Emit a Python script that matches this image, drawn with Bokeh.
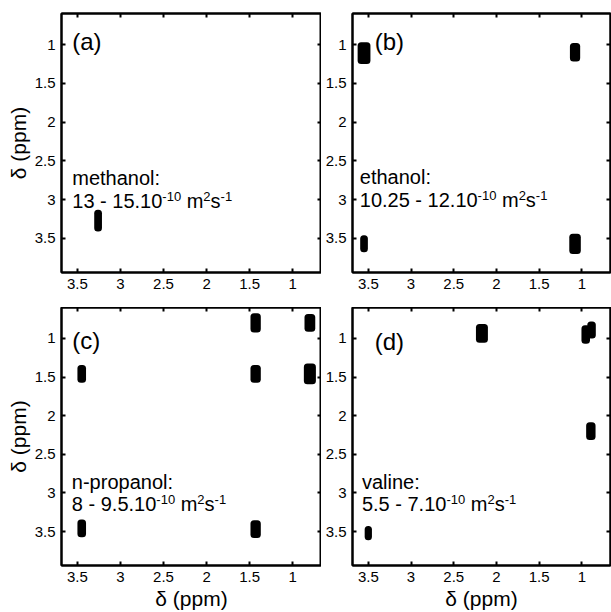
from bokeh.plotting import figure
from bokeh.layouts import gridplot
from bokeh.models import Range1d, LinearAxis, FixedTicker, Label
from bokeh.embed import file_html
from bokeh.resources import INLINE

FONT = "Liberation Sans"

# ---- axis ticks ----
x_ticks = [3.5, 3.0, 2.5, 2.0, 1.5, 1.0]
x_tick_labels = ["3.5", "3", "2.5", "2", "1.5", "1"]
y_ticks = [1.0, 1.5, 2.0, 2.5, 3.0, 3.5]
y_tick_labels = ["1", "1.5", "2", "2.5", "3", "3.5"]
axis_title = "δ (ppm)"

# ---- panel texts ----
panel_tags = ["(a)", "(b)", "(c)", "(d)"]
compounds = ["methanol:", "ethanol:", "n-propanol:", "valine:"]
diffusion_ranges = ["13 - 15.10", "10.25 - 12.10", "8 - 9.5.10", "5.5 - 7.10"]
unit_parts = [("-10", True), ("m", False), ("2", True), ("s", False), ("-1", True)]

# ---- cross peaks (F2 ppm, F1 ppm, extent in F2, extent in F1) ----
methanol_x = [3.26]
methanol_y = [3.27]
methanol_w = [0.09]
methanol_h = [0.28]

ethanol_x = [3.55, 1.08, 3.55, 1.08]
ethanol_y = [1.11, 1.10, 3.57, 3.57]
ethanol_w = [0.15, 0.12, 0.09, 0.135]
ethanol_h = [0.28, 0.24, 0.22, 0.26]

propanol_x = [3.45, 3.45, 1.43, 1.43, 1.43, 0.80, 0.80]
propanol_y = [1.46, 3.46, 0.80, 1.46, 3.47, 0.80, 1.46]
propanol_w = [0.10, 0.10, 0.12, 0.12, 0.12, 0.125, 0.14]
propanol_h = [0.23, 0.23, 0.25, 0.23, 0.23, 0.23, 0.27]

valine_x = [2.17, 0.955, 0.887, 0.895, 3.50]
valine_y = [0.935, 0.95, 0.89, 2.20, 3.52]
valine_w = [0.14, 0.10, 0.10, 0.11, 0.07]
valine_h = [0.245, 0.24, 0.22, 0.23, 0.185]

X_START, X_END = 3.685, 0.665
Y_TOP, Y_BOTTOM = 0.60, 3.94

# Arial / Liberation Sans advance widths (em units) for text layout
ADV = {c: 0.556 for c in "0123456789"}
ADV.update({" ": 0.278, "-": 0.333, ".": 0.278, "m": 0.833, "s": 0.5})
MAIN_PX = 20
SUP_PX = 13
SUP_RAISE = 5


def text_w(s, px):
    return sum(ADV.get(c, 0.556) for c in s) * px


def style_axis(ax, labels_visible, ticks, labels):
    ax.ticker = FixedTicker(ticks=ticks)
    ax.major_label_overrides = {t: l for t, l in zip(ticks, labels)}
    ax.axis_line_color = "black"
    ax.axis_line_width = 2
    ax.major_tick_line_color = "black"
    ax.major_tick_line_width = 2
    ax.major_tick_in = 4
    ax.major_tick_out = 0
    ax.minor_tick_in = 0
    ax.minor_tick_out = 0
    ax.major_label_text_font = FONT
    ax.axis_label_text_font = FONT
    ax.axis_label_text_font_style = "normal"
    ax.axis_label_text_font_size = "21px"
    ax.axis_label_text_color = "black"
    if labels_visible:
        ax.major_label_text_color = "black"
        ax.major_label_text_font_size = "15px"
        ax.major_label_standoff = 6
    else:
        ax.major_label_text_color = None
        ax.major_label_text_font_size = "1px"
        ax.major_label_standoff = 0


def make_panel(idx, xs, ys, ws, hs, left, right, top, bottom, fw, fh,
               xlabel, ylabel, tag_dx, text_dx, tag_y, l1_y, l2_y):
    p = figure(width=left + fw + right, height=top + fh + bottom,
               x_range=Range1d(X_START, X_END),
               y_range=Range1d(Y_BOTTOM, Y_TOP),
               output_backend="svg", toolbar_location=None, tools="")
    p.min_border_left = left
    p.min_border_right = right
    p.min_border_top = top
    p.min_border_bottom = bottom
    p.xgrid.visible = False
    p.ygrid.visible = False
    p.outline_line_color = "black"
    p.outline_line_width = 2
    p.background_fill_color = "white"
    p.border_fill_color = "white"

    style_axis(p.xaxis[0], True, x_ticks, x_tick_labels)
    style_axis(p.yaxis[0], True, y_ticks, y_tick_labels)
    if xlabel:
        p.xaxis[0].axis_label = axis_title
        p.xaxis[0].axis_label_standoff = 2
    if ylabel:
        p.yaxis[0].axis_label = axis_title
        p.yaxis[0].axis_label_standoff = 2

    top_ax = LinearAxis()
    style_axis(top_ax, False, x_ticks, x_tick_labels)
    p.add_layout(top_ax, "above")
    right_ax = LinearAxis()
    style_axis(right_ax, False, y_ticks, y_tick_labels)
    p.add_layout(right_ax, "right")

    # contour blobs: rectangles with a thick round-joined outline
    lw = 7
    px_x = fw / (X_START - X_END)
    px_y = fh / (Y_BOTTOM - Y_TOP)
    dw = [max(w - lw / px_x, 0.003) for w in ws]
    dh = [max(h - lw / px_y, 0.003) for h in hs]
    p.rect(x=xs, y=ys, width=dw, height=dh, fill_color="black",
           line_color="black", line_width=lw, line_join="round")

    p.add_layout(Label(x=X_START - tag_dx, y=tag_y, text=panel_tags[idx],
                       text_font=FONT, text_font_size="24px",
                       text_color="black", text_baseline="alphabetic"))
    p.add_layout(Label(x=X_START - text_dx, y=l1_y, text=compounds[idx],
                       text_font=FONT, text_font_size=f"{MAIN_PX}px",
                       text_color="black", text_baseline="alphabetic"))
    # second line: range + superscripted unit
    base = diffusion_ranges[idx]
    p.add_layout(Label(x=X_START - text_dx, y=l2_y, text=base,
                       text_font=FONT, text_font_size=f"{MAIN_PX}px",
                       text_color="black", text_baseline="alphabetic"))
    off = text_w(base, MAIN_PX)
    for part, sup in unit_parts:
        if not sup:
            off += text_w(" ", MAIN_PX) if part == "m" else 0
        size = SUP_PX if sup else MAIN_PX
        p.add_layout(Label(x=X_START - text_dx, y=l2_y, text=part,
                           x_offset=off, y_offset=SUP_RAISE if sup else 0,
                           text_font=FONT, text_font_size=f"{size}px",
                           text_color="black", text_baseline="alphabetic"))
        off += text_w(part, size)
    return p


pa = make_panel(0, methanol_x, methanol_y, methanol_w, methanol_h,
                61, 0, 13, 35, 260, 259, False, True,
                0.125, 0.125, 0.96, 2.725, 3.02)
pb = make_panel(1, ethanol_x, ethanol_y, ethanol_w, ethanol_h,
                31, 1, 13, 35, 258, 259, False, False,
                0.26, 0.085, 0.96, 2.71, 3.01)
pc = make_panel(2, propanol_x, propanol_y, propanol_w, propanol_h,
                61, 0, 0, 47, 260, 258, True, True,
                0.125, 0.12, 1.03, 2.855, 3.15)
pd = make_panel(3, valine_x, valine_y, valine_w, valine_h,
                31, 1, 0, 47, 258, 258, True, False,
                0.26, 0.11, 1.04, 2.86, 3.15)

grid = gridplot([[pa, pb], [pc, pd]], toolbar_location=None)

with open("out.html", "w") as f:
    f.write(file_html(grid, INLINE))
